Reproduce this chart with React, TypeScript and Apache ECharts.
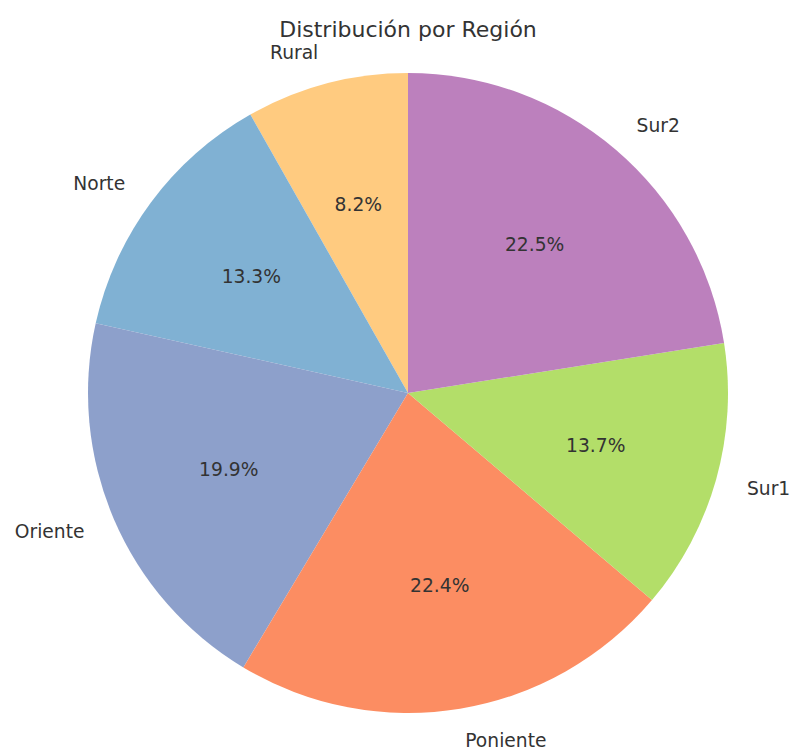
import React, { useEffect, useRef } from "react";
import * as echarts from "echarts";

const categories = ["Rural", "Norte", "Oriente", "Poniente", "Sur1", "Sur2"];
const values = [8.2, 13.3, 19.9, 22.4, 13.7, 22.5];
const colors = ["#ffcb80", "#80b1d3", "#8da0cb", "#fc8d62", "#b3de69", "#bc80bd"];

export default function App() {
  const ref = useRef<HTMLDivElement>(null);
  useEffect(() => {
    document.body.style.margin = "0";
    if (!ref.current) return;
    const chart = echarts.init(ref.current, undefined, { renderer: "svg" });
    const R = 320;
    const data = categories.map((name, i) => ({
      name,
      value: values[i],
      itemStyle: { color: colors[i] },
    }));
    const font = "DejaVu Sans";
    chart.setOption({
      animation: false,
      backgroundColor: "#ffffff",
      title: {
        text: "Distribución por Región",
        left: 403,
        top: 13,
        textAlign: "center",
        textStyle: { fontFamily: font, fontSize: 22, fontWeight: "normal", color: "#333333" },
      },
      series: [
        {
          type: "pie",
          center: [408, 393],
          radius: [0, R],
          startAngle: 90,
          clockwise: false,
          avoidLabelOverlap: false,
          silent: true,
          data,
          label: {
            show: true,
            position: "outside",
            formatter: "{b}",
            fontFamily: font,
            fontSize: 18.7,
            color: "#333333",
            distanceToLabelLine: 0,
          },
          labelLine: { show: false, length: R * 0.1, length2: 0 },
          itemStyle: { borderWidth: 0 },
        },
        {
          type: "pie",
          center: [408, 393],
          radius: [0, R * 1.2],
          startAngle: 90,
          clockwise: false,
          avoidLabelOverlap: false,
          silent: true,
          data: categories.map((name, i) => ({ name, value: values[i] })),
          itemStyle: { color: "transparent", borderWidth: 0 },
          label: {
            show: true,
            position: "inside",
            formatter: (p: any) => p.value.toFixed(1) + "%",
            fontFamily: font,
            fontSize: 18.7,
            color: "#333333",
          },
          labelLine: { show: false },
        },
      ],
    });
    return () => chart.dispose();
  }, []);
  return <div ref={ref} style={{ width: 794, height: 754 }} />;
}
